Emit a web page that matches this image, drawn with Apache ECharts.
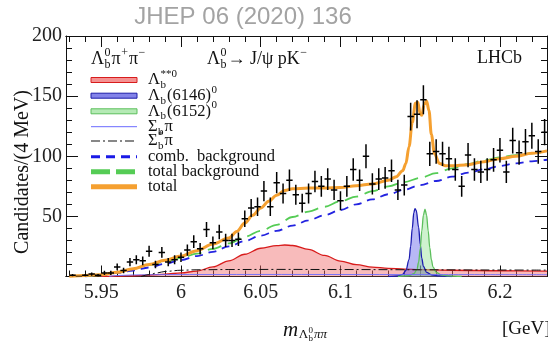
<!DOCTYPE html>
<html><head><meta charset="utf-8">
<script src="https://cdn.jsdelivr.net/npm/echarts@6/dist/echarts.min.js"></script>
<style>html,body{margin:0;padding:0;background:#fff}#c{width:548px;height:347px}</style>
</head><body><div id="c"></div>
<script>
// ---------------- data ----------------
const xTickValues = [5.95, 6.0, 6.05, 6.1, 6.15, 6.2];
const xTickLabels = ['5.95', '6', '6.05', '6.1', '6.15', '6.2'];
const xMinorValues = [5.93,5.94,5.96,5.97,5.98,5.99,6.01,6.02,6.03,6.04,6.06,6.07,6.08,6.09,6.11,6.12,6.13,6.14,6.16,6.17,6.18,6.19,6.21,6.22];
const yTickLabels = ['', '50', '100', '150', '200'];

const binCenters = [5.932,5.936,5.940,5.944,5.948,5.952,5.956,5.960,5.964,5.968,5.972,5.976,5.980,5.984,5.988,5.992,5.996,
  6.000,6.004,6.008,6.012,6.016,6.020,6.024,6.028,6.032,6.036,6.040,6.044,6.048,6.052,6.056,6.060,6.064,6.068,6.072,6.076,
  6.080,6.084,6.088,6.092,6.096,6.100,6.104,6.108,6.112,6.116,6.120,6.124,6.128,6.132,6.136,6.140,6.144,6.148,6.152,6.156,
  6.160,6.164,6.168,6.172,6.176,6.180,6.184,6.188,6.192,6.196,6.200,6.204,6.208,6.212,6.216,6.220,6.224,6.228];
const counts = [1,0,1,2,1,3,3,8,5,12,14,13,21,10,20,12,14,
  16,22,29,23,39,28,37,30,30,31,48,57,58,71,58,78,69,80,68,61,
  69,79,75,81,72,63,75,89,80,100,77,81,82,88,72,76,133,135,147,102,
  104,102,98,89,75,101,89,87,89,97,105,87,113,103,112,117,104,120];

const totalX = [5.930,5.940,5.950,5.960,5.970,5.980,5.990,6.000,6.010,6.020,6.030,6.035,6.040,6.045,6.050,6.055,6.060,6.065,6.070,6.080,6.090,6.100,6.110,6.120,6.130,6.135,6.139,6.141,6.143,6.145,6.147,6.1485,6.150,6.151,6.1525,6.154,6.1555,6.157,6.159,6.162,6.166,6.170,6.180,6.190,6.200,6.210,6.220,6.2295];
const totalY = [0.3,0.8,1.5,3.5,6.5,10,13.5,17,21.5,27,32,37.5,44.5,51,57,62.5,67.5,71.5,73,73.5,73.5,74,75.5,77,80,83,88,94,108,128,144,145,135,134,143,146,138,118,102,94,92,92,93,95.5,98,100,102.5,104.5];

const totBkgX = [5.940,5.950,5.960,5.970,5.980,5.990,6.000,6.010,6.020,6.030,6.040,6.050,6.060,6.070,6.080,6.090,6.100,6.110,6.120,6.130,6.140,6.150,6.160,6.170,6.180,6.190,6.200,6.210,6.220,6.2295];
const totBkgY = [0.3,1.5,3.5,6.3,9.5,12.5,15.5,19,23,27.5,33,38,43,49.5,54,58,62.5,66.5,71,75,78.5,82,86,90,93.5,96.5,99,101,102.5,103.5];

const combX = [5.940,5.950,5.960,5.970,5.980,5.990,6.000,6.010,6.020,6.030,6.040,6.050,6.060,6.070,6.080,6.090,6.100,6.110,6.120,6.130,6.140,6.150,6.160,6.170,6.180,6.190,6.200,6.210,6.220,6.2295];
const combY = [0,1,3,5,7.5,10.5,13.7,17,20.5,25,29.5,34,38,42.3,46.7,51,55.3,60,64.2,68.4,72.2,76,79.4,83,86.3,89.1,91.9,94.1,95.8,97.1];

const lbStarX = [5.950,5.960,5.970,5.980,5.990,6.000,6.010,6.020,6.030,6.040,6.050,6.060,6.065,6.070,6.080,6.090,6.100,6.110,6.120,6.130,6.140,6.150,6.170,6.200,6.2295];
const lbStarY = [0.1,0.3,0.6,1.2,2,3,4.5,8,13,18.5,23.5,25.7,26.2,25.8,22.5,17.5,12.8,9.8,7.8,6.8,6.2,5.8,5.2,4.8,4.5];

const lb6146X = [6.130,6.136,6.139,6.141,6.143,6.144,6.145,6.146,6.1467,6.1475,6.149,6.150,6.151,6.152,6.154,6.157,6.162,6.170];
const lb6146Y = [0,0.6,1.8,5,14,25,40,53,56.5,55,41,27,15,8.5,3.5,1.4,0.5,0];

const lb6152X = [6.136,6.143,6.146,6.148,6.149,6.150,6.151,6.152,6.153,6.154,6.155,6.156,6.157,6.158,6.160,6.163,6.168,6.176];
const lb6152Y = [0,0.7,2.3,6,12,23,38,51,56,51,38,24,14,8,3.5,1.4,0.5,0];

const sigStarX = [5.975,5.980,5.985,5.990,6.000,6.010,6.030,6.060,6.100,6.150,6.200,6.2295];
const sigStarY = [0,1.5,3,4.2,5.2,5.6,5.8,5.9,5.8,5.6,5.4,5.3];

const sigX = [5.955,5.960,5.970,5.990,6.050,6.150,6.2295];
const sigY = [0,0.8,1.3,1.6,1.7,1.6,1.5];

// ---------------- helpers ----------------
const zip = (xs, ys) => xs.map((x, i) => [x, ys[i]]);
const X_MIN = 5.9279, X_MAX = 6.2295;
const SERIF = '"Liberation Serif", "DejaVu Serif", serif';
const meas = document.createElement('canvas').getContext('2d');
function tw(t, size, italic) { meas.font = (italic ? 'italic ' : '') + size + 'px ' + SERIF; return meas.measureText(t).width; }
function txt(x, y, t, size, italic, color) {
  return { type: 'text', x: x, y: y, silent: true, z: 100,
    style: { text: t, fontSize: size, fontFamily: SERIF, fontStyle: italic ? 'italic' : 'normal', fill: color || '#111',
      align: 'left', verticalAlign: 'middle', textAlign: 'left', textVerticalAlign: 'middle' } };
}
function mathText(x, y, parts, size, color) {
  const els = []; let cx = x; const small = Math.round(size * 0.66);
  for (const p of parts) {
    if (typeof p === 'string' || p.t !== undefined) {
      const t = typeof p === 'string' ? p : p.t; const it = p.italic;
      els.push(txt(cx, y, t, size, it, color)); cx += tw(t, size, it);
    } else {
      let w = 0;
      if (p.sup) { els.push(txt(cx + 0.5, y - size * 0.36, p.sup, small, false, color)); w = Math.max(w, tw(p.sup, small)); }
      if (p.sub) { els.push(txt(cx + 0.5, y + size * 0.3, p.sub, small, false, color)); w = Math.max(w, tw(p.sub, small)); }
      cx += w + 1.5;
    }
  }
  return { els, end: cx };
}

const graphics = [];
// title
graphics.push({ type: 'text', x: 243, y: 17, silent: true,
  style: { text: 'JHEP 06 (2020) 136', fontSize: 24, fontFamily: '"Liberation Sans", Arial, sans-serif', fill: '#a3a3a3',
    align: 'center', verticalAlign: 'middle', textAlign: 'center', textVerticalAlign: 'middle' } });
// y axis title
graphics.push({ type: 'text', x: 23, y: 172, rotation: Math.PI / 2, silent: true,
  style: { text: 'Candidates/(4 MeV)', fontSize: 20, fontFamily: SERIF, fill: '#111',
    align: 'center', verticalAlign: 'middle', textAlign: 'center', textVerticalAlign: 'middle' } });
// in-plot labels
graphics.push(...mathText(91, 59, ['Λ', { sub: 'b', sup: '0' }, 'π', { sup: '+' }, 'π', { sup: '−' }], 18).els);
graphics.push(...mathText(207, 59, ['Λ', { sub: 'b', sup: '0' }, '→ J/ψ pK', { sup: '−' }], 18).els);
graphics.push(txt(477, 58, 'LHCb', 18));
// x axis title
{
  const m = mathText(283, 330, [{ t: 'm', italic: true }], 21);
  graphics.push(...m.els);
  const s = mathText(m.end + 0.5, 335, ['Λ', { sub: 'b', sup: '0' }, { t: 'ππ', italic: true }], 13);
  graphics.push(...s.els);
  graphics.push(txt(502, 329, '[GeV]', 19));
}
// legend
const legY = [80, 95.7, 111.3, 126.7, 141, 156.7, 171.7, 186.7];
const LX0 = 91, LX1 = 137, TX = 148, LS = 16.5;
function legRect(y, fill, stroke) {
  graphics.push({ type: 'rect', silent: true, z: 90, shape: { x: LX0, y: y - 2.5, width: LX1 - LX0, height: 5 }, style: { fill: fill, stroke: stroke, lineWidth: 1 } });
}
function legLine(y, stroke, w, dash) {
  graphics.push({ type: 'line', silent: true, z: 90, shape: { x1: LX0, y1: y, x2: LX1, y2: y }, style: { stroke: stroke, lineWidth: w, lineDash: dash || null } });
}
legRect(legY[0], 'rgba(240,110,110,0.75)', '#d81c1c');
legRect(legY[1], 'rgba(90,90,225,0.75)', '#1c1ca8');
legRect(legY[2], 'rgba(150,225,150,0.7)', '#5cbf5c');
legLine(legY[3], '#6a6aff', 1);
legLine(legY[4], '#111', 1.2, [9, 3, 2, 3]);
legLine(legY[5], '#1a1ae6', 3, [9, 6]);
legLine(legY[6], '#55cc55', 5, [19, 6]);
legLine(legY[7], '#f5a030', 5);
graphics.push(...mathText(TX, legY[0], ['Λ', { sub: 'b', sup: '**0' }], LS).els);
graphics.push(...mathText(TX, legY[1], ['Λ', { sub: 'b' }, '(6146)', { sup: '0' }], LS).els);
graphics.push(...mathText(TX, legY[2], ['Λ', { sub: 'b' }, '(6152)', { sup: '0' }], LS).els);
graphics.push(...mathText(TX, legY[3], ['Σ', { sub: 'b' }, 'π'], LS).els);
graphics.push(...mathText(TX, legY[4], ['Σ', { sub: 'b', sup: '*' }, 'π'], LS).els);
graphics.push(txt(TX, legY[5], 'comb.  background', LS));
graphics.push(txt(TX, legY[6], 'total background', LS));
graphics.push(txt(TX, legY[7], 'total', LS));

// ---------------- chart ----------------
const chart = echarts.init(document.getElementById('c'), null, { renderer: 'canvas' });
const axisLine = { show: true, lineStyle: { color: '#111', width: 1 } };
function xAx(pos, major, labels) {
  return { type: 'value', position: pos, min: X_MIN, max: X_MAX, gridIndex: 0,
    axisLine: axisLine, splitLine: { show: false },
    axisTick: { show: true, inside: true, length: major ? 11 : 6, lineStyle: { color: '#111' }, customValues: major ? xTickValues : xMinorValues },
    axisLabel: labels ? { show: true, customValues: xTickValues, margin: 6, fontSize: 20, fontFamily: SERIF, color: '#222',
      formatter: v => { const i = xTickValues.findIndex(t => Math.abs(t - v) < 1e-6); return i >= 0 ? xTickLabels[i] : ''; } } : { show: false } };
}
function yAx(pos, labels) {
  return { type: 'value', position: pos, min: 0, max: 200, interval: 50, gridIndex: 0,
    axisLine: axisLine, splitLine: { show: false },
    axisTick: { show: true, inside: true, length: 12, lineStyle: { color: '#111' } },
    minorTick: { show: true, splitNumber: 5, length: 6, lineStyle: { color: '#111' } },
    axisLabel: labels ? { show: true, margin: 4, fontSize: 20, fontFamily: SERIF, color: '#222',
      formatter: v => yTickLabels[Math.round(v / 50)] } : { show: false } };
}
function lineSeries(name, data, style, extra) {
  return Object.assign({ name, type: 'line', data, xAxisIndex: 0, yAxisIndex: 0, showSymbol: false, symbol: 'none',
    smooth: 0.35, smoothMonotone: 'x', lineStyle: style, clip: true, animation: false }, extra || {});
}
const option = {
  animation: false,
  backgroundColor: '#fff',
  grid: { left: 66, right: 1, top: 36, bottom: 70.5, containLabel: false },
  xAxis: [xAx('bottom', true, true), xAx('bottom', false, false), xAx('top', true, false), xAx('top', false, false)],
  yAxis: [yAx('left', true), yAx('right', false)],
  series: [
    lineSeries('Λb**0', zip(lbStarX, lbStarY), { color: '#d81c1c', width: 1.3 }, { areaStyle: { color: 'rgba(240,105,105,0.65)' }, z: 2 }),
    lineSeries('Λb(6146)0', zip(lb6146X, lb6146Y), { color: '#1c1cb0', width: 1.3 }, { areaStyle: { color: 'rgba(85,85,230,0.6)' }, z: 3 }),
    lineSeries('Λb(6152)0', zip(lb6152X, lb6152Y), { color: '#5cbf5c', width: 1.3 }, { areaStyle: { color: 'rgba(140,225,140,0.6)' }, z: 3 }),
    lineSeries('Σbπ', zip(sigX, sigY), { color: '#6a6aff', width: 0.9 }, { z: 4 }),
    lineSeries('Σb*π', zip(sigStarX, sigStarY), { color: '#111', width: 1, type: [9, 3, 2, 3] }, { z: 4 }),
    lineSeries('comb. background', zip(combX, combY), { color: '#2323e0', width: 1.8, type: [8, 6] }, { z: 5 }),
    lineSeries('total background', zip(totBkgX, totBkgY), { color: '#55cc55', width: 1.8, type: [14, 7] }, { z: 5 }),
    lineSeries('total', zip(totalX, totalY), { color: '#f5a030', width: 3 }, { z: 6 }),
    { name: 'data', type: 'custom', xAxisIndex: 0, yAxisIndex: 0, z: 10, clip: true,
      data: zip(binCenters, counts),
      renderItem: (params, api) => {
        const x = api.value(0), y = api.value(1), e = Math.sqrt(y);
        const c = api.coord([x, y]);
        const lo = api.coord([x, Math.max(0, y - e)]), hi = api.coord([x, y + e]);
        const l = api.coord([x - 0.002, y]), r = api.coord([x + 0.002, y]);
        return { type: 'group', children: [
          { type: 'line', shape: { x1: c[0], y1: lo[1], x2: c[0], y2: hi[1] }, style: { stroke: '#000', lineWidth: 1.5 } },
          { type: 'line', shape: { x1: l[0], y1: c[1], x2: r[0], y2: c[1] }, style: { stroke: '#000', lineWidth: 1.5 } }
        ] };
      } }
  ],
  graphic: graphics
};
chart.setOption(option);
</script></body></html>
